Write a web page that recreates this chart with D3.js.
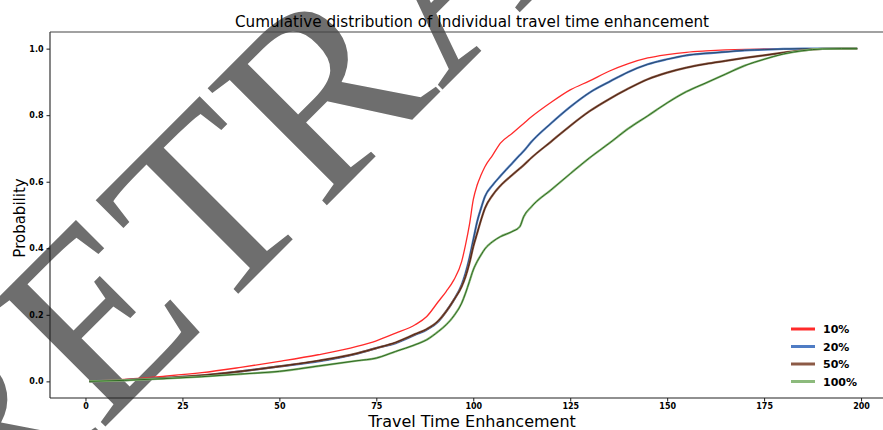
<!DOCTYPE html>
<html>
<head>
<meta charset="utf-8">
<script src="https://cdn.jsdelivr.net/npm/d3@7"></script>
<style>
  body { margin: 0; background: #fff; }
  text { font-family: "DejaVu Sans", sans-serif; }
</style>
</head>
<body>
<div id="chart"></div>
<script>
// travel time enhancement grid (x) and cumulative probability per share
const xs = [1, 10, 20, 30, 40, 50, 60, 70, 75, 80, 85, 88, 91, 93, 95, 97, 98, 99, 100, 101, 102, 103, 105, 107, 110, 112, 113, 115, 120, 125, 130, 135, 140, 145, 150, 155, 160, 165, 170, 175, 180, 185, 190, 195, 199];
const p10 = [0, 0.006, 0.015, 0.026, 0.042, 0.06, 0.08, 0.105, 0.122, 0.145, 0.17, 0.195, 0.24, 0.27, 0.305, 0.36, 0.41, 0.47, 0.546, 0.59, 0.62, 0.645, 0.68, 0.716, 0.745, 0.765, 0.775, 0.795, 0.838, 0.876, 0.903, 0.932, 0.955, 0.972, 0.982, 0.989, 0.993, 0.996, 0.998, 0.999, 1, 1, 1, 1, 1];
const p20 = [0, 0.004, 0.01, 0.017, 0.03, 0.045, 0.06, 0.083, 0.1, 0.115, 0.14, 0.155, 0.18, 0.21, 0.245, 0.29, 0.325, 0.37, 0.425, 0.48, 0.52, 0.555, 0.59, 0.617, 0.655, 0.68, 0.692, 0.72, 0.775, 0.825, 0.868, 0.9, 0.93, 0.953, 0.968, 0.98, 0.986, 0.99, 0.995, 0.997, 0.999, 1, 1, 1, 1];
const p50 = [0, 0.004, 0.01, 0.018, 0.03, 0.045, 0.062, 0.084, 0.1, 0.117, 0.142, 0.157, 0.182, 0.21, 0.245, 0.285, 0.315, 0.355, 0.405, 0.445, 0.485, 0.52, 0.56, 0.588, 0.62, 0.64, 0.65, 0.672, 0.72, 0.768, 0.812, 0.848, 0.88, 0.908, 0.928, 0.943, 0.954, 0.963, 0.972, 0.98, 0.988, 0.995, 0.999, 1, 1];
const p100 = [0, 0.003, 0.008, 0.014, 0.022, 0.03, 0.046, 0.062, 0.07, 0.09, 0.11, 0.125, 0.15, 0.17, 0.197, 0.235, 0.265, 0.3, 0.335, 0.36, 0.38, 0.398, 0.42, 0.435, 0.45, 0.465, 0.495, 0.525, 0.575, 0.624, 0.672, 0.715, 0.76, 0.798, 0.837, 0.871, 0.897, 0.923, 0.949, 0.968, 0.984, 0.994, 0.999, 1, 1];

const seriesNames = ["10%", "20%", "50%", "100%"];
const seriesValues = [p10, p20, p50, p100];
const lightColors = ["#ff2a2a", "#4f7cc4", "#8c5a46", "#8cba7c"];
const darkColors = ["#ff2a2a", "#2c4a68", "#4a2414", "#2f6a22"];

const xTicks = [0, 25, 50, 75, 100, 125, 150, 175, 200];
const yTicks = [0, 0.2, 0.4, 0.6, 0.8, 1.0];

const W = 883, H = 430;
const margin = { top: 32, right: -12, bottom: 32, left: 50 },
    width = W - margin.left - margin.right,
    height = H - margin.top - margin.bottom;

const svg = d3.select("#chart")
    .append("svg")
    .attr("width", W)
    .attr("height", H);

// watermark behind everything
svg.append("text")
    .attr("transform", "translate(-20,552) rotate(-45)")
    .style("font-family", "'Liberation Serif', serif")
    .style("font-size", "255px")
    .attr("fill", "#6e6e6e")
    .text("RETRACTED");

const g = svg.append("g")
    .attr("transform", `translate(${margin.left},${margin.top})`);

const x = d3.scaleLinear()
    .domain([-9.15, 208.75])
    .range([0, width]);

const y = d3.scaleLinear()
    .domain([-0.05, 1.05])
    .range([height, 0]);

// x axis
const xAxis = g.append("g")
    .attr("transform", `translate(0,${height})`)
    .call(d3.axisBottom(x).tickValues(xTicks).tickFormat(d3.format("d")).tickSize(3.5).tickPadding(2));
// y axis
const yAxis = g.append("g")
    .call(d3.axisLeft(y).tickValues(yTicks).tickFormat(d3.format(".1f")).tickSize(3.5).tickPadding(3));

[xAxis, yAxis].forEach(a => {
    a.select(".domain").remove();
    a.selectAll("line").attr("stroke", "#000").attr("stroke-width", 0.9);
    a.selectAll("text")
        .style("font-family", "'DejaVu Sans', sans-serif")
        .style("font-size", "8px")
        .style("font-weight", "bold")
        .attr("fill", "#000");
});

// spines: left, bottom, top
g.append("line").attr("x1", 0).attr("x2", 0).attr("y1", 0).attr("y2", height)
    .attr("stroke", "#222").attr("stroke-width", 1.1);
g.append("line").attr("x1", 0).attr("x2", width).attr("y1", height).attr("y2", height)
    .attr("stroke", "#222").attr("stroke-width", 1.1);
g.append("line").attr("x1", 0).attr("x2", width).attr("y1", 0).attr("y2", 0)
    .attr("stroke", "#444").attr("stroke-width", 1.1);

const line = d3.line()
    .x((d, i) => x(xs[i]))
    .y(d => y(d))
    .curve(d3.curveMonotoneX);

// each curve: lighter wide stroke with a darker thin core
seriesValues.forEach((vals, i) => {
    g.append("path")
        .datum(vals)
        .attr("fill", "none")
        .attr("stroke", lightColors[i])
        .attr("stroke-width", i === 0 ? 1.3 : 2.2)
        .attr("d", line);
    if (i > 0) {
        g.append("path")
            .datum(vals)
            .attr("fill", "none")
            .attr("stroke", darkColors[i])
            .attr("stroke-width", 1)
            .attr("d", line);
    }
});

// title and axis labels
svg.append("text")
    .attr("x", 472)
    .attr("y", 27)
    .attr("text-anchor", "middle")
    .style("font-size", "15.2px")
    .text("Cumulative distribution of Individual travel time enhancement");

svg.append("text")
    .attr("x", 472)
    .attr("y", 427)
    .attr("text-anchor", "middle")
    .style("font-size", "16px")
    .text("Travel Time Enhancement");

svg.append("text")
    .attr("transform", "translate(25,218) rotate(-90)")
    .attr("text-anchor", "middle")
    .style("font-size", "15px")
    .text("Probability");

// legend
const legend = svg.append("g").attr("transform", "translate(791,329)");
seriesNames.forEach((name, i) => {
    const row = legend.append("g").attr("transform", `translate(0,${i * 17.5})`);
    row.append("line")
        .attr("x1", 0).attr("x2", 24)
        .attr("stroke", lightColors[i])
        .attr("stroke-width", 3);
    row.append("text")
        .attr("x", 32)
        .attr("y", 4)
        .style("font-size", "11px")
        .style("font-weight", "bold")
        .text(name);
});
</script>
</body>
</html>
